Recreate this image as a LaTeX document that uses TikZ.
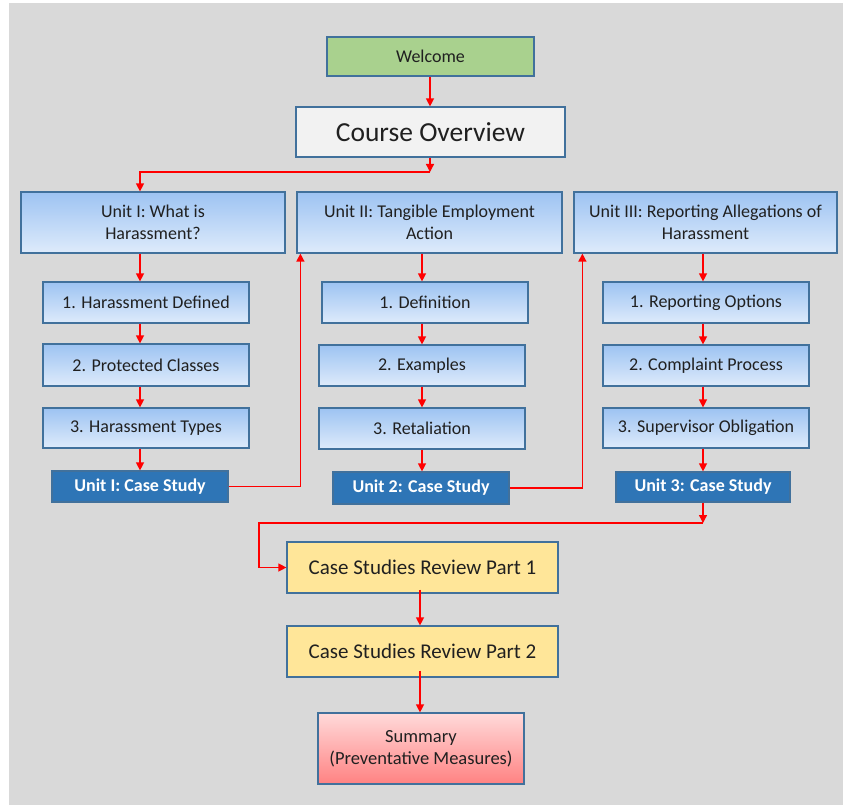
\documentclass[tikz,border=0pt]{standalone}
\usepackage{fontspec}
\setmainfont{Carlito}
\usetikzlibrary{arrows.meta,calc}
\definecolor{bg}{HTML}{D9D9D9}
\definecolor{bord}{HTML}{41719C}
\definecolor{welc}{HTML}{A9D18E}
\definecolor{ovr}{HTML}{F2F2F2}
\definecolor{blueT}{HTML}{9DC3F2}
\definecolor{blueB}{HTML}{DEEBFB}
\definecolor{cs}{HTML}{2E75B6}
\definecolor{rev}{HTML}{FFE699}
\definecolor{redT}{HTML}{FFDADA}
\definecolor{redB}{HTML}{FF8282}
\definecolor{txt}{HTML}{202020}
\definecolor{arrred}{HTML}{FF0000}
\tikzset{
  base/.style={draw=bord,line width=1.2pt,inner sep=0pt,align=center,text=txt,
    font=\fontsize{18}{22}\selectfont},
  welcbox/.style={base,fill=welc},
  ovrbox/.style={base,fill=ovr,font=\fontsize{27.5}{30}\selectfont},
  unitbox/.style={base,top color=blueT,bottom color=blueB},
  subbox/.style={base,top color=blueT,bottom color=blueB},
  csbox/.style={base,fill=cs,draw=bord,text=white,font=\fontsize{18}{22}\selectfont\bfseries},
  revbox/.style={base,fill=rev,font=\fontsize{21}{24}\selectfont},
  sumbox/.style={base,top color=redT,bottom color=redB,font=\fontsize{18.5}{22}\selectfont},
  arr/.style={draw=arrred,line width=1.3pt,-{Triangle[length=8pt,width=8pt]}},
}
\begin{document}
\begin{tikzpicture}[x=1pt,y=-1pt]
\useasboundingbox (0,0) rectangle (843,805);
\fill[bg] (9,3) rectangle (843,805);
% nodes
\node[welcbox,minimum width=207pt,minimum height=39pt] (welcome) at (430.5,56.5) {Welcome};
\node[ovrbox,minimum width=269pt,minimum height=50pt] (overview) at (430.5,132) {Course Overview};
\node[unitbox,minimum width=264pt,minimum height=61pt] (u1) at (153,222.5) {Unit I: What is\\Harassment?};
\node[unitbox,minimum width=265pt,minimum height=61pt] (u2) at (429.5,222.5) {Unit II: Tangible Employment\\Action};
\node[unitbox,minimum width=263pt,minimum height=61pt] (u3) at (705.5,222.5) {Unit III: Reporting Allegations of\\Harassment};
\node[subbox,minimum width=206pt,minimum height=41pt] (s11) at (146,302.5) {1. Harassment Defined};
\node[subbox,minimum width=206pt,minimum height=42pt] (s12) at (146,365) {2. Protected Classes};
\node[subbox,minimum width=206pt,minimum height=40pt] (s13) at (146,428) {3. Harassment Types};
\node[csbox,minimum width=176pt,minimum height=31pt] (c1) at (140,486.5) {Unit I: Case Study};
\node[subbox,minimum width=206pt,minimum height=41pt] (s21) at (425,302.5) {1. Definition};
\node[subbox,minimum width=206pt,minimum height=41pt] (s22) at (422,365.5) {2. Examples};
\node[subbox,minimum width=206pt,minimum height=41pt] (s23) at (422,428.5) {3. Retaliation};
\node[csbox,minimum width=176pt,minimum height=32pt] (c2) at (421,488) {Unit 2: Case Study};
\node[subbox,minimum width=206pt,minimum height=41pt] (s31) at (706,302.5) {1. Reporting Options};
\node[subbox,minimum width=206pt,minimum height=41pt] (s32) at (706,365.5) {2. Complaint Process};
\node[subbox,minimum width=206pt,minimum height=40pt] (s33) at (706,428) {3. Supervisor Obligation};
\node[csbox,minimum width=174pt,minimum height=30pt] (c3) at (703,487) {Unit 3: Case Study};
\node[revbox,minimum width=271pt,minimum height=51pt] (r1) at (422.5,567.5) {Case Studies Review Part 1};
\node[revbox,minimum width=271pt,minimum height=51pt] (r2) at (422.5,651.5) {Case Studies Review Part 2};
\node[sumbox,minimum width=206pt,minimum height=71pt] (sum) at (421,748.5) {Summary\\(Preventative Measures)};
% guide coordinates
\coordinate (x1) at (140,0);
\coordinate (x2) at (422,0);
\coordinate (x3) at (703,0);
\coordinate (x0) at (430,0);
\coordinate (xr) at (420,0);
\coordinate (xl) at (259,0);
\coordinate (j1) at (430,172);
\coordinate (j2) at (703,523);
% connectors
\draw[arr] (welcome.south -| x0) -- (overview.north -| x0);
\draw[arr] (overview.south -| x0) -- (j1);
\draw[arr] (j1) -| (u1.north -| x1);
\draw[arr] (u1.south -| x1) -- (s11.north -| x1);
\draw[arr] (s11.south -| x1) -- (s12.north -| x1);
\draw[arr] (s12.south -| x1) -- (s13.north -| x1);
\draw[arr] (s13.south -| x1) -- (c1.north -| x1);
\draw[arr] (c1.east) -| ([xshift=4pt]u2.south west);
\draw[arr] (u2.south -| x2) -- (s21.north -| x2);
\draw[arr] (s21.south -| x2) -- (s22.north -| x2);
\draw[arr] (s22.south -| x2) -- (s23.north -| x2);
\draw[arr] (s23.south -| x2) -- (c2.north -| x2);
\draw[arr] (c2.east) -| ([xshift=9pt]u3.south west);
\draw[arr] (u3.south -| x3) -- (s31.north -| x3);
\draw[arr] (s31.south -| x3) -- (s32.north -| x3);
\draw[arr] (s32.south -| x3) -- (s33.north -| x3);
\draw[arr] (s33.south -| x3) -- (c3.north -| x3);
\draw[arr] (c3.south -| x3) -- (j2);
\draw[arr] (j2) -- (j2 -| xl) |- (r1.west);
\draw[arr] ([yshift=4pt]r1.south -| xr) -- (r2.north -| xr);
\draw[arr] ([yshift=7pt]r2.south -| xr) -- (sum.north -| xr);
\end{tikzpicture}
\end{document}
